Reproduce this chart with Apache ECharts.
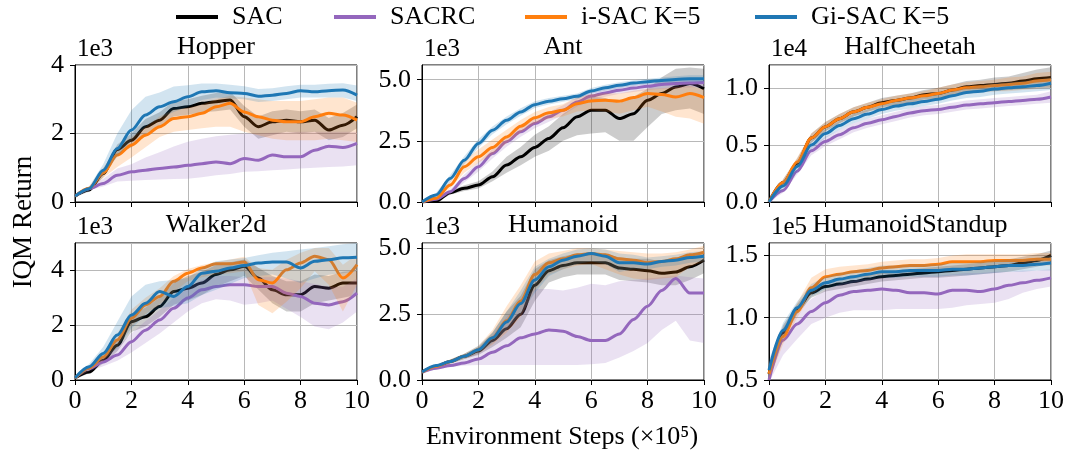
<!DOCTYPE html>
<html><head><meta charset="utf-8">
<script src="https://cdn.jsdelivr.net/npm/echarts@6/dist/echarts.min.js"></script>
<style>html,body{margin:0;padding:0;background:#fff}#c{width:1068px;height:451px}</style>
</head><body><div id="c"></div>
<script>
// ---------------- DATA ----------------
const steps = [0,0.5,1,1.5,2,2.5,3,3.5,4,4.5,5,5.5,6,6.5,7,7.5,8,8.5,9,9.5,10];
const methods = ['SAC','SACRC','i-SAC K=5','Gi-SAC K=5'];
const envNames = ['Hopper','Ant','HalfCheetah','Walker2d','Humanoid','HumanoidStandup'];
const scaleTexts = ['1e3','1e3','1e4','1e3','1e3','1e5'];
const yMins = [0,0,0,0,0,0.5];
const yMaxs = [4,5.6,1.2,5,5.2,1.6];
const yIntervals = [2,2.5,0.5,2,2.5,0.5];
const yTickValues = [[0,2,4],[0,2.5,5],[0,0.5,1],[0,2,4],[0,2.5,5],[0.5,1,1.5]];
const yTickLabels = [['0','2','4'],['0.0','2.5','5.0'],['0.0','0.5','1.0'],['0','2','4'],['0.0','2.5','5.0'],['0.5','1.0','1.5']];
const xTickLabels = {0:'0',2:'2',4:'4',6:'6',8:'8',10:'10'};

// order of each list: SAC, SACRC, i-SAC K=5, Gi-SAC K=5
const hopperMean = [
 [0.17,0.35,0.83,1.53,1.8,2.2,2.39,2.73,2.78,2.88,2.93,2.98,2.49,2.2,2.34,2.39,2.34,2.39,2.1,2.24,2.49],
 [0.17,0.39,0.54,0.78,0.88,0.93,0.98,1.02,1.07,1.12,1.17,1.12,1.27,1.22,1.37,1.32,1.32,1.51,1.63,1.59,1.71],
 [0.17,0.4,0.85,1.37,1.66,1.95,2.2,2.44,2.49,2.59,2.78,2.88,2.63,2.49,2.39,2.34,2.34,2.49,2.59,2.54,2.39],
 [0.17,0.39,0.93,1.56,2.1,2.54,2.78,2.93,3.07,3.22,3.25,3.19,3.17,3.09,3.12,3.17,3.25,3.22,3.25,3.27,3.12]];
const hopperLo = [
 [0.15,0.3,0.72,1.38,1.6,1.98,2.15,2.5,2.55,2.62,2.65,2.7,2.2,1.85,1.95,2.05,2.0,2.05,1.8,1.9,2.15],
 [0.15,0.35,0.45,0.6,0.62,0.64,0.66,0.67,0.68,0.72,0.78,0.82,0.88,0.9,0.93,0.95,0.98,1.0,1.02,1.04,1.07],
 [0.15,0.35,0.7,1.02,1.3,1.6,1.9,2.05,2.1,2.15,2.2,2.2,2.05,1.95,1.85,1.8,1.8,1.8,1.85,1.8,1.75],
 [0.15,0.33,0.8,1.32,1.8,2.2,2.44,2.63,2.78,2.98,3.05,3.02,3.0,2.92,2.95,3.0,3.05,3.05,3.05,3.05,2.95]];
const hopperHi = [
 [0.19,0.42,0.95,1.68,2.0,2.42,2.62,2.95,3.0,3.1,3.18,3.22,2.8,2.5,2.65,2.7,2.65,2.7,2.45,2.6,2.85],
 [0.19,0.44,0.68,0.98,1.1,1.3,1.45,1.62,1.76,1.85,1.92,1.96,2.0,2.0,2.02,2.04,2.05,2.05,2.05,2.05,2.05],
 [0.19,0.45,1.0,1.6,1.9,2.2,2.5,2.7,2.75,2.85,3.0,3.1,3.05,3.0,2.95,2.95,2.95,3.0,3.05,3.05,2.9],
 [0.19,0.45,1.1,2.0,2.68,3.07,3.2,3.37,3.41,3.46,3.46,3.42,3.38,3.3,3.32,3.38,3.42,3.42,3.45,3.47,3.4]];

const antMean = [
 [0,0.04,0.38,0.56,0.69,1.03,1.51,1.85,2.23,2.6,3.03,3.48,3.75,3.75,3.41,3.61,4.16,4.43,4.7,4.84,4.63],
 [0,0.11,0.42,0.96,1.44,1.98,2.46,2.87,3.21,3.48,3.75,4.09,4.33,4.46,4.57,4.66,4.73,4.8,4.84,4.86,4.88],
 [0,0.15,0.69,1.44,1.85,2.23,2.66,3.1,3.44,3.65,3.75,4.02,4.13,4.16,4.12,4.27,4.43,4.39,4.29,4.43,4.27],
 [0,0.29,0.96,1.71,2.39,2.93,3.34,3.68,3.98,4.12,4.22,4.32,4.54,4.67,4.77,4.86,4.92,4.97,5.01,5.04,5.04]];
const antLo = [
 [0,0,0.3,0.45,0.55,0.85,1.2,1.5,1.85,2.1,2.5,2.73,2.8,2.85,2.5,2.5,3.07,3.6,3.75,3.82,3.6],
 [0,0.06,0.32,0.8,1.25,1.78,2.26,2.67,3.01,3.28,3.55,3.9,4.15,4.3,4.42,4.5,4.57,4.63,4.66,4.68,4.7],
 [0,0.1,0.55,1.2,1.6,1.95,2.4,2.85,3.2,3.4,3.5,3.7,3.75,3.7,3.61,3.75,3.89,3.7,3.48,3.41,3.2],
 [0,0.2,0.82,1.55,2.22,2.77,3.18,3.53,3.84,3.99,4.1,4.2,4.42,4.55,4.65,4.74,4.8,4.85,4.88,4.9,4.9]];
const antHi = [
 [0,0.08,0.46,0.68,0.85,1.25,1.85,2.25,2.75,3.1,3.6,4.0,4.3,4.25,4.05,4.3,4.63,5.1,5.45,5.5,5.45],
 [0,0.16,0.52,1.12,1.63,2.18,2.66,3.07,3.41,3.68,3.95,4.27,4.5,4.62,4.72,4.81,4.88,4.96,5.0,5.03,5.05],
 [0,0.2,0.85,1.7,2.15,2.55,2.95,3.35,3.68,3.88,4.0,4.3,4.4,4.45,4.43,4.55,4.63,4.65,4.7,4.75,4.6],
 [0,0.38,1.1,1.87,2.56,3.09,3.5,3.83,4.12,4.25,4.34,4.44,4.66,4.79,4.89,4.98,5.04,5.09,5.14,5.18,5.18]];

const cheetahMean = [
 [0,0.17,0.34,0.56,0.66,0.73,0.79,0.83,0.87,0.89,0.91,0.94,0.95,0.98,1.01,1.02,1.03,1.04,1.06,1.08,1.09],
 [0,0.1,0.27,0.45,0.53,0.59,0.65,0.69,0.72,0.75,0.78,0.8,0.81,0.83,0.85,0.86,0.87,0.88,0.89,0.9,0.92],
 [0,0.17,0.35,0.56,0.66,0.73,0.79,0.83,0.86,0.89,0.91,0.93,0.95,0.98,1.0,1.01,1.02,1.03,1.04,1.06,1.07],
 [0,0.14,0.31,0.5,0.6,0.67,0.73,0.77,0.81,0.84,0.86,0.88,0.9,0.93,0.96,0.97,0.99,1.0,1.01,1.02,1.04]];
const cheetahLo = [
 [0,0.14,0.3,0.52,0.62,0.69,0.75,0.79,0.83,0.85,0.87,0.9,0.9,0.93,0.96,0.97,0.97,0.98,0.99,1.0,1.0],
 [0,0.08,0.24,0.41,0.49,0.55,0.61,0.65,0.68,0.71,0.74,0.76,0.77,0.79,0.81,0.82,0.83,0.84,0.85,0.86,0.87],
 [0,0.14,0.31,0.52,0.62,0.69,0.75,0.79,0.82,0.85,0.87,0.89,0.9,0.93,0.95,0.96,0.97,0.97,0.98,0.99,1.0],
 [0,0.11,0.27,0.46,0.56,0.63,0.69,0.73,0.77,0.8,0.82,0.84,0.86,0.89,0.91,0.92,0.94,0.95,0.96,0.97,0.98]];
const cheetahHi = [
 [0,0.2,0.38,0.6,0.7,0.77,0.83,0.87,0.91,0.93,0.95,0.98,1.0,1.03,1.06,1.07,1.09,1.1,1.13,1.16,1.18],
 [0,0.12,0.3,0.49,0.57,0.63,0.69,0.73,0.76,0.79,0.82,0.84,0.85,0.87,0.89,0.9,0.91,0.92,0.93,0.94,0.97],
 [0,0.2,0.39,0.6,0.7,0.77,0.83,0.87,0.9,0.93,0.95,0.97,1.0,1.03,1.05,1.06,1.07,1.09,1.1,1.13,1.14],
 [0,0.17,0.35,0.54,0.64,0.71,0.77,0.81,0.85,0.88,0.9,0.92,0.94,0.97,1.0,1.02,1.04,1.05,1.06,1.07,1.09]];

const walkerMean = [
 [0.07,0.29,0.72,1.27,2.13,2.31,2.68,3.23,3.35,3.54,3.85,4.02,4.15,3.72,3.29,3.11,3.11,3.41,3.35,3.54,3.54],
 [0.07,0.42,0.66,0.91,1.4,1.82,2.19,2.62,2.99,3.29,3.41,3.48,3.48,3.41,3.41,3.17,3.05,2.8,2.74,2.86,3.17],
 [0.07,0.44,0.84,1.46,2.25,2.74,3.05,3.6,3.9,4.09,4.24,4.24,4.31,3.66,3.54,4.02,4.27,4.52,4.39,3.72,4.21],
 [0.07,0.48,0.97,1.64,2.37,2.8,3.23,3.05,3.41,3.9,3.97,4.09,4.18,4.27,4.31,4.31,4.09,4.33,4.39,4.46,4.48]];
const walkerLo = [
 [0.05,0.24,0.6,1.05,1.75,1.95,2.3,2.75,2.9,3.1,3.4,3.6,3.8,3.3,2.8,2.5,2.5,2.8,2.9,3.0,3.1],
 [0.05,0.32,0.5,0.7,1.0,1.35,1.7,2.1,2.5,2.8,2.95,2.9,2.75,2.8,2.9,2.6,2.3,1.95,1.85,2.1,2.5],
 [0.05,0.36,0.7,1.2,1.95,2.4,2.74,3.2,3.6,3.75,3.85,3.9,3.97,2.74,2.44,2.86,3.35,3.97,3.48,2.5,3.48],
 [0.05,0.38,0.75,1.15,1.88,2.37,2.62,2.7,2.8,3.1,3.29,3.5,3.72,3.8,3.85,3.7,3.54,3.7,3.84,3.9,3.97]];
const walkerHi = [
 [0.09,0.35,0.85,1.5,2.4,2.65,3.0,3.55,3.8,3.95,4.2,4.3,4.4,4.1,3.8,3.6,3.6,3.85,3.8,3.95,4.0],
 [0.09,0.5,0.8,1.2,1.7,2.15,2.55,3.0,3.4,3.65,3.8,3.8,3.75,3.75,3.75,3.7,3.6,3.5,3.4,3.4,3.7],
 [0.09,0.52,1.0,1.7,2.56,3.0,3.35,3.8,4.05,4.2,4.3,4.4,4.5,4.09,4.02,4.39,4.64,4.82,4.82,4.21,4.58],
 [0.09,0.58,1.2,2.13,3.05,3.48,3.6,3.65,3.72,4.1,4.33,4.4,4.45,4.55,4.64,4.7,4.76,4.82,4.88,4.95,5.0]];

const humanoidMean = [
 [0.3,0.5,0.7,0.9,1.1,1.5,1.95,2.5,3.6,4.15,4.35,4.45,4.45,4.45,4.25,4.2,4.15,4.05,4.1,4.3,4.55],
 [0.3,0.45,0.55,0.65,0.8,1.05,1.3,1.6,1.75,1.9,1.85,1.65,1.5,1.5,1.75,2.3,2.8,3.4,3.85,3.3,3.3],
 [0.3,0.52,0.7,0.9,1.15,1.6,2.25,3.0,4.0,4.45,4.6,4.75,4.8,4.75,4.6,4.55,4.45,4.5,4.6,4.75,4.85],
 [0.3,0.55,0.7,0.9,1.15,1.6,2.2,2.9,3.8,4.3,4.55,4.7,4.8,4.7,4.45,4.45,4.4,4.5,4.55,4.65,4.7]];
const humanoidLo = [
 [0.28,0.45,0.62,0.8,0.95,1.25,1.6,2.0,3.0,3.7,3.9,4.0,4.0,4.0,3.8,3.75,3.7,3.6,3.6,3.8,4.05],
 [0.28,0.4,0.48,0.55,0.57,0.57,0.57,0.57,0.57,0.57,0.57,0.57,0.6,0.65,0.85,1.1,1.4,1.9,2.25,1.5,1.4],
 [0.28,0.46,0.62,0.8,1.0,1.35,1.8,2.4,3.4,4.0,4.2,4.35,4.4,4.2,4.0,3.85,3.8,3.85,3.9,4.3,4.5],
 [0.28,0.5,0.63,0.8,1.0,1.4,1.9,2.5,3.3,3.95,4.2,4.4,4.5,4.4,4.1,4.2,4.2,4.3,4.35,4.45,4.5]];
const humanoidHi = [
 [0.32,0.55,0.78,1.0,1.25,1.8,2.6,3.2,4.2,4.55,4.7,4.8,4.8,4.8,4.65,4.6,4.6,4.5,4.5,4.65,4.85],
 [0.32,0.5,0.62,0.8,1.1,1.7,2.4,3.0,3.45,3.45,3.4,3.5,3.65,3.6,3.75,3.8,3.85,3.9,3.97,3.9,3.85],
 [0.32,0.58,0.78,1.0,1.3,1.9,2.8,3.6,4.5,4.8,4.9,5.0,5.0,4.95,4.9,4.85,4.8,4.8,4.85,4.95,5.1],
 [0.32,0.6,0.77,1.0,1.3,1.8,2.6,3.4,4.3,4.6,4.8,4.95,5.0,4.95,4.8,4.75,4.65,4.7,4.75,4.85,4.9]];

const standupMean = [
 [0.55,0.88,1.07,1.2,1.25,1.27,1.29,1.31,1.33,1.34,1.35,1.36,1.37,1.38,1.39,1.4,1.41,1.42,1.44,1.46,1.5],
 [0.5,0.82,0.95,1.05,1.12,1.18,1.21,1.22,1.23,1.22,1.2,1.2,1.19,1.22,1.22,1.21,1.23,1.26,1.28,1.3,1.32],
 [0.55,0.85,1.05,1.24,1.33,1.35,1.37,1.38,1.4,1.41,1.42,1.42,1.43,1.45,1.45,1.45,1.46,1.46,1.46,1.47,1.47],
 [0.58,0.9,1.08,1.22,1.28,1.31,1.33,1.35,1.37,1.37,1.38,1.38,1.38,1.39,1.39,1.4,1.41,1.42,1.42,1.43,1.44]];
const standupLo = [
 [0.5,0.82,1.03,1.16,1.21,1.23,1.25,1.27,1.29,1.3,1.31,1.32,1.32,1.33,1.34,1.35,1.36,1.37,1.39,1.41,1.44],
 [0.48,0.7,0.83,0.95,1.0,1.04,1.06,1.06,1.06,1.07,1.07,1.07,1.07,1.08,1.1,1.11,1.12,1.15,1.2,1.23,1.25],
 [0.5,0.79,1.0,1.18,1.27,1.3,1.32,1.33,1.35,1.36,1.37,1.37,1.38,1.39,1.4,1.4,1.41,1.41,1.41,1.42,1.42],
 [0.53,0.84,1.03,1.17,1.23,1.26,1.28,1.3,1.32,1.32,1.33,1.33,1.33,1.34,1.34,1.35,1.36,1.37,1.37,1.38,1.38]];
const standupHi = [
 [0.62,0.94,1.11,1.24,1.29,1.31,1.33,1.35,1.37,1.38,1.39,1.4,1.41,1.42,1.43,1.44,1.45,1.47,1.49,1.51,1.54],
 [0.52,0.92,1.05,1.15,1.22,1.27,1.3,1.31,1.32,1.33,1.33,1.34,1.34,1.35,1.36,1.36,1.37,1.37,1.38,1.38,1.39],
 [0.62,0.92,1.12,1.32,1.39,1.41,1.42,1.43,1.45,1.46,1.47,1.47,1.48,1.5,1.51,1.51,1.51,1.51,1.51,1.52,1.52],
 [0.66,0.96,1.13,1.27,1.33,1.36,1.38,1.4,1.42,1.42,1.43,1.43,1.43,1.44,1.44,1.45,1.46,1.47,1.47,1.48,1.5]];

// ---------------- STYLE / LAYOUT ----------------
const colors = ['#000000','#9467bd','#ff7f0e','#1f77b4'];
const FONT = 'Liberation Serif';
const gridLefts = [75,422,769];
const gridTops = [65,243];
const GW = 282, GH = 137;
const legendLefts = [176,334,525,755];

const means = [hopperMean, antMean, cheetahMean, walkerMean, humanoidMean, standupMean];
const los = [hopperLo, antLo, cheetahLo, walkerLo, humanoidLo, standupLo];
const his = [hopperHi, antHi, cheetahHi, walkerHi, humanoidHi, standupHi];

function bandRenderer(lo, hi, color) {
  return function (params, api) {
    if (params.dataIndex !== 0) return null;
    const pts = [];
    for (let i = 0; i < steps.length; i++) pts.push(api.coord([steps[i], lo[i]]));
    for (let i = steps.length - 1; i >= 0; i--) pts.push(api.coord([steps[i], hi[i]]));
    return {type: 'polygon', shape: {points: pts, smooth: 0}, silent: true,
      style: {fill: color, opacity: 0.2, stroke: null}};
  };
}

const grids = [], xAxes = [], yAxes = [], series = [], graphics = [];
for (let p = 0; p < 6; p++) {
  const col = p % 3, row = Math.floor(p / 3);
  grids.push({left: gridLefts[col], top: gridTops[row], width: GW, height: GH,
    show: true, borderColor: '#000', borderWidth: 1, backgroundColor: 'transparent',
    containLabel: false, outerBoundsMode: 'none'});
  xAxes.push({type: 'value', gridIndex: p, min: 0, max: 10, interval: 2,
    axisLine: {show: true, onZero: false, lineStyle: {color: '#000', width: 1}},
    axisTick: {show: true, length: 5, lineStyle: {color: '#000', width: 1}},
    axisLabel: {show: row === 1, fontFamily: FONT, fontSize: 26, color: '#000', margin: 8,
      showMinLabel: true, showMaxLabel: true,
      formatter: v => (xTickLabels[v] !== undefined ? xTickLabels[v] : '')},
    splitLine: {show: true, lineStyle: {color: '#b8b8b8', width: 1}}});
  const tv = yTickValues[p], tl = yTickLabels[p];
  yAxes.push({type: 'value', gridIndex: p, min: yMins[p], max: yMaxs[p], interval: yIntervals[p],
    name: scaleTexts[p], nameLocation: 'end', nameGap: 16,
    nameTextStyle: {fontFamily: FONT, fontSize: 25, color: '#000', align: 'left', verticalAlign: 'middle', padding: [0,0,0,2]},
    axisLine: {show: true, onZero: false, lineStyle: {color: '#000', width: 1}},
    axisTick: {show: true, length: 5, lineStyle: {color: '#000', width: 1}},
    axisLabel: {fontFamily: FONT, fontSize: 26, color: '#000', margin: 11,
      showMinLabel: true, showMaxLabel: tv.some(t => Math.abs(t - yMaxs[p]) < 1e-9),
      formatter: v => { const i = tv.findIndex(t => Math.abs(t - v) < 1e-9); return i >= 0 ? tl[i] : ''; }},
    splitLine: {show: true, lineStyle: {color: '#b8b8b8', width: 1}}});
  graphics.push({type: 'text', x: gridLefts[col] + GW / 2, y: gridTops[row] - 18,
    style: {text: envNames[p], font: '26px "' + FONT + '"', fill: '#000', align: 'center', verticalAlign: 'middle'}, z: 100});
  for (let k = 0; k < 4; k++) {
    const c = colors[k];
    series.push({type: 'line', name: methods[k], xAxisIndex: p, yAxisIndex: p,
      symbol: 'none', showSymbol: false, silent: true, animation: false,
      smooth: 0.3, smoothMonotone: 'x', clip: true,
      data: steps.map((x, i) => [x, means[p][k][i]]),
      lineStyle: {width: 3, color: c}, itemStyle: {color: c}, z: 2 + k * 2});
    series.push({type: 'custom', name: methods[k] + ' band', xAxisIndex: p, yAxisIndex: p,
      coordinateSystem: 'cartesian2d', silent: true, animation: false, clip: true,
      data: steps.map((x, i) => [x, los[p][k][i], his[p][k][i]]),
      encode: {x: 0, y: [1, 2]},
      renderItem: bandRenderer(los[p][k], his[p][k], c), z: 3 + k * 2});
  }
}

graphics.push({type: 'text', x: 24, y: 222, rotation: Math.PI / 2,
  style: {text: 'IQM Return', font: '27px "' + FONT + '"', fill: '#000', align: 'center', verticalAlign: 'middle'}});
graphics.push({type: 'text', x: 562, y: 437,
  style: {text: 'Environment Steps (\u00d710\u2075)', font: '26px "' + FONT + '"', fill: '#000', align: 'center', verticalAlign: 'middle'}});

const legends = methods.map((m, k) => ({
  data: [m], left: legendLefts[k], top: 4, icon: 'rect', itemWidth: 42, itemHeight: 4,
  itemGap: 0, selectedMode: false, padding: 0,
  textStyle: {fontFamily: FONT, fontSize: 26, color: '#000', padding: [0, 0, 0, 9]}
}));

const chart = echarts.init(document.getElementById('c'), null, {renderer: 'canvas'});
chart.setOption({
  animation: false,
  backgroundColor: '#fff',
  grid: grids, xAxis: xAxes, yAxis: yAxes, series: series,
  legend: legends, graphic: graphics
});
</script></body></html>
